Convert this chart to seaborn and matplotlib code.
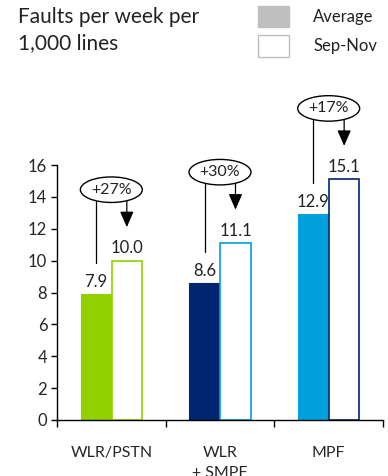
import matplotlib
matplotlib.use("Agg")
import matplotlib.pyplot as plt
import seaborn as sns
import pandas as pd
import numpy as np
from matplotlib.patches import Ellipse, Rectangle

categories = ["WLR/PSTN", "WLR\n+ SMPF", "MPF"]
series = ["Average", "Sep-Nov"]
average = [7.9, 8.6, 12.9]
sep_nov = [10.0, 11.1, 15.1]
changes = ["+27%", "+30%", "+17%"]
fill_colors = ["#92D000", "#002672", "#00A0DD"]
edge_colors = ["#92D000", "#00A0DD", "#002672"]

sns.set_theme(style="white")
plt.rcParams['font.family'] = ['Lato', 'DejaVu Sans']

W, H = 388, 476
fig = plt.figure(figsize=(W / 100, H / 100), dpi=100)

def fx(px):
    return px / W

def fy(py):
    return 1 - py / H

ax = fig.add_axes([fx(57), fy(420), fx(383) - fx(57), fy(165) - fy(420)])

df = pd.DataFrame({
    "category": categories * 2,
    "series": [series[0]] * 3 + [series[1]] * 3,
    "value": average + sep_nov,
})

sns.barplot(data=df, x="category", y="value", hue="series", order=categories,
            hue_order=series, width=0.57, ax=ax, legend=False, errorbar=None,
            saturation=1, gap=0.03)

for i, bar in enumerate(ax.containers[0]):
    bar.set_facecolor(fill_colors[i])
    bar.set_edgecolor(fill_colors[i])
    bar.set_linewidth(0.8)
for i, bar in enumerate(ax.containers[1]):
    bar.set_facecolor("white")
    bar.set_edgecolor(edge_colors[i])
    bar.set_linewidth(1.2)

ax.set_ylim(0, 16)
ax.set_xlim(-0.5, 2.5)
ax.set_yticks(range(0, 17, 2))
ax.set_xlabel("")
ax.set_ylabel("")
ax.set_xticks([0, 1, 2])
ax.set_xticklabels(categories, fontsize=11.5, linespacing=1.55, va="top")
ax.set_xticks([-0.5, 0.5, 1.5, 2.5], minor=True)
ax.tick_params(axis="x", which="major", length=0, pad=19)
ax.tick_params(axis="x", which="minor", length=5, width=1, direction="out", color="black", bottom=True)
ax.tick_params(axis="y", length=4, width=1, direction="out", color="black", left=True, labelsize=12, pad=3)
for s in ["top", "right"]:
    ax.spines[s].set_visible(False)
for s in ["left", "bottom"]:
    ax.spines[s].set_color("black")
    ax.spines[s].set_linewidth(1)

# value labels
for cont in ax.containers:
    for bar in cont:
        h = bar.get_height()
        ax.annotate(f"{h:.1f}", (bar.get_x() + bar.get_width() / 2, h),
                    xytext=(0, 3), textcoords="offset points",
                    ha="center", va="bottom", fontsize=12, color="#222222")

# change annotations
ell_w, ell_h = 0.57, 1.6
for i in range(3):
    a_bar = ax.containers[0][i]
    s_bar = ax.containers[1][i]
    xa = a_bar.get_x() + a_bar.get_width() / 2
    xs = s_bar.get_x() + s_bar.get_width() / 2
    top = max(average[i], sep_nov[i])
    cy = top + 4.45
    cx = i
    e = Ellipse((cx, cy), ell_w, ell_h, facecolor="white", edgecolor="black",
                lw=1, clip_on=False, zorder=5)
    ax.add_patch(e)
    ax.text(cx, cy, changes[i], ha="center", va="center", fontsize=11.5,
            zorder=6, clip_on=False, color="#222222")
    def ell_bottom(x):
        dx = (x - cx) / (ell_w / 2)
        return cy - (ell_h / 2) * np.sqrt(max(0.0, 1 - dx * dx))
    ax.plot([xa, xa], [average[i] + 1.95, ell_bottom(xa)], color="black",
            lw=0.9, clip_on=False, zorder=4)
    ax.annotate("", xy=(xs, sep_nov[i] + 2.1), xytext=(xs, ell_bottom(xs)),
                arrowprops=dict(arrowstyle="-|>,head_length=0.8,head_width=0.35",
                                color="black", lw=0.9, shrinkA=0, shrinkB=0),
                annotation_clip=False, zorder=4)

# title
fig.text(fx(18), fy(17), "Faults per week per", fontsize=15, va="center", ha="left", color="#222222")
fig.text(fx(18), fy(43), "1,000 lines", fontsize=15, va="center", ha="left", color="#222222")

# legend
fig.add_artist(Rectangle((fx(258), fy(27)), fx(31), fy(6) - fy(27),
                         transform=fig.transFigure, facecolor="#BFBFBF", edgecolor="#BFBFBF", lw=1))
fig.add_artist(Rectangle((fx(258), fy(57)), fx(31), fy(35) - fy(57),
                         transform=fig.transFigure, facecolor="white", edgecolor="#BFBFBF", lw=1))
fig.text(fx(313), fy(17), "Average", fontsize=12, va="center", ha="left", color="#222222")
fig.text(fx(313), fy(46), "Sep-Nov", fontsize=12, va="center", ha="left", color="#222222")

fig.savefig("out.png", dpi=100)
